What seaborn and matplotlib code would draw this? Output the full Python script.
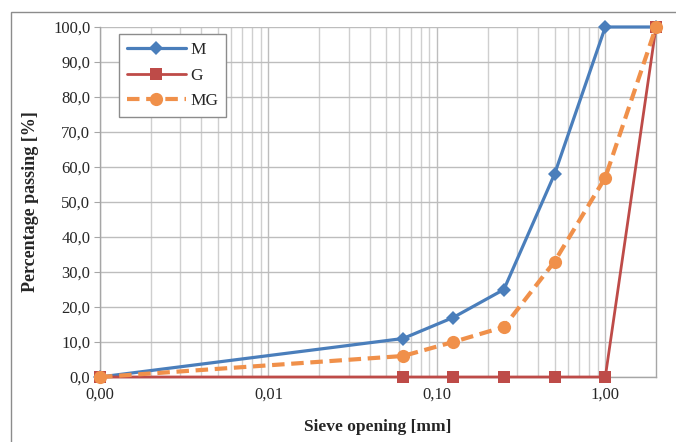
import pandas as pd
import matplotlib.pyplot as plt
import numpy as np
import seaborn as sns
from matplotlib.patches import Rectangle
from matplotlib.ticker import FixedLocator, FixedFormatter, NullFormatter

# sieve openings [mm] and percentage passing
sieve = [0.001, 0.063, 0.125, 0.25, 0.5, 1.0, 2.0]
M = [0.0, 11.0, 17.0, 25.0, 58.0, 100.0, 100.0]
G = [0.0, 0.0, 0.0, 0.0, 0.0, 0.0, 100.0]
MG = [0.0, 6.0, 10.0, 14.3, 33.0, 57.0, 100.0]

x_ticks = [0.001, 0.01, 0.1, 1.0]
x_labels = ["0,00", "0,01", "0,10", "1,00"]
y_ticks = [0, 10, 20, 30, 40, 50, 60, 70, 80, 90, 100]

df = pd.DataFrame({"sieve": sieve, "M": M, "G": G, "MG": MG})

sns.set_style("white")
plt.rcParams["font.family"] = ["Liberation Serif", "DejaVu Serif"]

fig = plt.figure(figsize=(6.76, 4.42), dpi=100)
ax = fig.add_axes([100/676, 1-377/442, 556/676, 350/442])

# outer chart frame
fig.patches.append(Rectangle((11/676, -0.05), 1.0, 0.05+1-12/442, transform=fig.transFigure,
                             fill=False, edgecolor="#8c8c8c", linewidth=1.0))

sns.lineplot(data=df, x="sieve", y="M", ax=ax, color="#4a7ebb", linewidth=2.3,
             marker="D", markersize=7, markeredgewidth=0, label="M", sort=False,
             zorder=3, clip_on=False)
sns.lineplot(data=df, x="sieve", y="G", ax=ax, color="#be4b48", linewidth=2.0,
             marker="s", markersize=8.5, markeredgewidth=0, label="G", sort=False,
             zorder=4, clip_on=False)
sns.lineplot(data=df, x="sieve", y="MG", ax=ax, color="#f0904a", linewidth=3.0,
             linestyle=(0, (3, 1.6)), marker="o", markersize=9.5, markeredgewidth=0,
             label="MG", sort=False, zorder=5, clip_on=False)

ax.set_xscale("log")
ax.set_xlim(0.001, 2.0)
ax.set_ylim(0, 100)

ax.xaxis.set_major_locator(FixedLocator(x_ticks))
ax.xaxis.set_major_formatter(FixedFormatter(x_labels))
minor = [m * 10.0**e for e in range(-3, 1) for m in range(2, 10)]
ax.xaxis.set_minor_locator(FixedLocator([v for v in minor if v < 2.0]))
ax.xaxis.set_minor_formatter(NullFormatter())
ax.set_yticks(y_ticks)
ax.set_yticklabels([f"{v:.1f}".replace(".", ",") for v in y_ticks])

ax.grid(True, which="major", color="#bdbdbd", linewidth=1.0)
ax.grid(True, which="minor", axis="x", color="#cfcfcf", linewidth=1.0)
ax.set_axisbelow(True)

for s in ["left", "bottom", "right", "top"]:
    ax.spines[s].set_color("#a6a6a6")
    ax.spines[s].set_linewidth(1.0)
ax.spines["top"].set_visible(False)

ax.tick_params(axis="y", which="major", length=4, color="#a6a6a6", labelsize=12, pad=3, left=True)
ax.tick_params(axis="x", which="major", length=0, labelsize=12, pad=7)
ax.tick_params(axis="x", which="minor", length=0)

ax.set_xlabel("Sieve opening [mm]", fontsize=12.5, fontweight="bold", labelpad=12)
ax.set_ylabel("Percentage passing [%]", fontsize=13, fontweight="bold", labelpad=10)

leg = ax.legend(loc="upper left", bbox_to_anchor=(19/556, 1-7/350), fontsize=12.5,
                handlelength=3.4, frameon=True, fancybox=False, borderpad=0.45,
                labelspacing=0.55, handletextpad=0.25, borderaxespad=0)
leg.get_frame().set_edgecolor("#8c8c8c")
leg.get_frame().set_linewidth(1.0)
leg.get_frame().set_alpha(1.0)

plt.savefig("out.png", dpi=100)
